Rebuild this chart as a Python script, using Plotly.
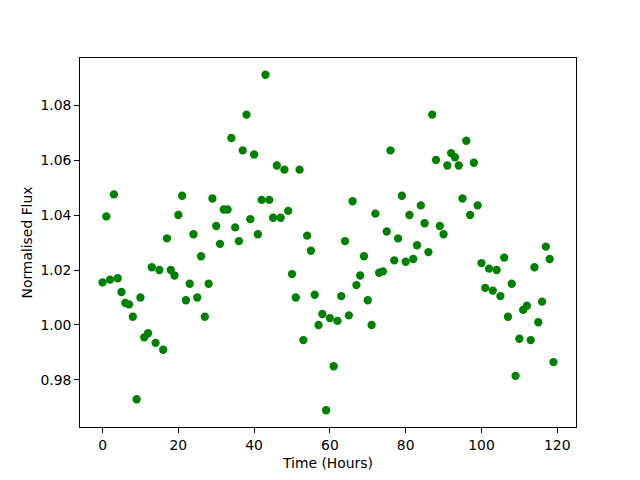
import plotly.graph_objects as go

hours = list(range(120))
flux = [
    1.0155, 1.0395, 1.0165, 1.0475, 1.017, 1.012, 1.008, 1.0075, 1.003, 0.973,
    1.010, 0.9955, 0.997, 1.021, 0.9935, 1.020, 0.991, 1.0315, 1.020, 1.018,
    1.040, 1.047, 1.009, 1.015, 1.033, 1.010, 1.025, 1.003, 1.015, 1.046,
    1.036, 1.0295, 1.042, 1.042, 1.068, 1.0355, 1.0305, 1.0635, 1.0765, 1.0385,
    1.062, 1.033, 1.0455, 1.091, 1.0455, 1.039, 1.058, 1.039, 1.0565, 1.0415,
    1.0185, 1.010, 1.0565, 0.9945, 1.0325, 1.027, 1.011, 1.000, 1.004, 0.969,
    1.0025, 0.985, 1.0015, 1.0105, 1.0305, 1.0035, 1.045, 1.0145, 1.018, 1.025,
    1.009, 1.000, 1.0405, 1.019, 1.0195, 1.034, 1.0635, 1.0235, 1.0315, 1.047,
    1.023, 1.040, 1.024, 1.029, 1.0435, 1.037, 1.0265, 1.0765, 1.060, 1.036,
    1.033, 1.058, 1.0625, 1.061, 1.058, 1.046, 1.067, 1.040, 1.059, 1.0435,
    1.0225, 1.0135, 1.0205, 1.0125, 1.020, 1.0105, 1.0245, 1.003, 1.015, 0.9815,
    0.995, 1.0055, 1.007, 0.9945, 1.021, 1.001, 1.0085, 1.0285, 1.024, 0.9865,
]
x_ticks = [0, 20, 40, 60, 80, 100, 120]
y_ticks = [0.98, 1.00, 1.02, 1.04, 1.06, 1.08]

def padded(vals, frac=0.05):
    lo, hi = min(vals), max(vals)
    d = (hi - lo) * frac
    return [lo - d, hi + d]

fig = go.Figure(go.Scatter(
    x=hours, y=flux, mode="markers",
    marker=dict(color="#008000", size=8.3, line=dict(width=0)),
))

axis_common = dict(
    showgrid=False, zeroline=False, showline=True, linecolor="black", linewidth=1,
    mirror=True, ticks="outside", ticklen=4.9, tickwidth=1, tickcolor="black",
    automargin=False,
    tickfont=dict(family="DejaVu Sans", size=13.9, color="black"),
)
fig.update_layout(
    width=640, height=480,
    margin=dict(l=72, r=72, t=50, b=61),
    paper_bgcolor="white", plot_bgcolor="white",
    showlegend=False,
    font=dict(family="DejaVu Sans", size=13.9, color="black"),
    xaxis=dict(range=padded(hours), tickvals=x_ticks, ticktext=[str(v) for v in x_ticks],
               title=dict(text="Time (Hours)", standoff=6, font=dict(size=13.9)), **axis_common),
    yaxis=dict(range=padded(flux), tickvals=y_ticks, ticktext=[f"{v:.2f}" for v in y_ticks],
               title=dict(text="Normalised Flux", standoff=4, font=dict(size=13.9)), **axis_common),
)
fig.write_html("out.html")
